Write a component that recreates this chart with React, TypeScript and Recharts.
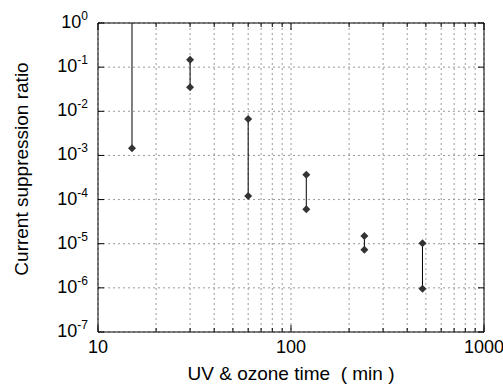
import React from 'react';
import { ScatterChart, Scatter, XAxis, YAxis, CartesianGrid, Label } from 'recharts';

// UV & ozone exposure time (min) and the measured suppression range at each
const times = [15, 30, 60, 120, 240, 480];
const lowRatio = [1.46e-3, 3.5e-2, 1.2e-4, 6.0e-5, 7.3e-6, 9.5e-7];
const highRatio = [1.5, 1.47e-1, 6.7e-3, 3.66e-4, 1.49e-5, 1.02e-5];

const xTicks = [10, 20, 30, 40, 50, 60, 70, 80, 90, 100, 200, 300, 400, 500, 600, 700, 800, 900, 1000];
const xLabels = [10, 100, 1000];
const yTicks = [1e-7, 1e-6, 1e-5, 1e-4, 1e-3, 1e-2, 1e-1, 1];

const FONT = '"Liberation Sans", Arial, Helvetica, sans-serif';

const Diamond = (props: any) => {
  const { cx, cy } = props;
  if (cx == null || cy == null) return null;
  const r = 4;
  return <path d={`M${cx},${cy - r}L${cx + r},${cy}L${cx},${cy + r}L${cx - r},${cy}Z`} fill="#333" />;
};

const BottomTick = (props: any) => {
  const { x, y, payload } = props;
  const major = xLabels.includes(payload.value);
  return (
    <g>
      <line x1={x} x2={x} y1={y} y2={y - (major ? 7 : 4)} stroke="#000" />
      {major && (
        <text x={x} y={y + 21} textAnchor="middle" fontSize={18} fontFamily={FONT} fill="#000">
          {payload.value}
        </text>
      )}
    </g>
  );
};

const TopTick = (props: any) => {
  const { x, y, payload } = props;
  const major = xLabels.includes(payload.value);
  return <line x1={x} x2={x} y1={y} y2={y + (major ? 7 : 4)} stroke="#000" />;
};

const LeftTick = (props: any) => {
  const { x, y, payload } = props;
  const exp = Math.round(Math.log10(payload.value));
  return (
    <g>
      <line x1={x} x2={x + 6} y1={y} y2={y} stroke="#000" />
      <text x={x - 10} y={y + 5} textAnchor="end" fontSize={18} fontFamily={FONT} fill="#000">
        10<tspan dy={-8} fontSize={12}>{exp}</tspan>
      </text>
    </g>
  );
};

const RightTick = (props: any) => {
  const { x, y } = props;
  return <line x1={x} x2={x - 6} y1={y} y2={y} stroke="#000" />;
};

export default function App() {
  return (
    <div style={{ position: 'absolute', left: 0, top: 0 }}>
      <ScatterChart width={503} height={385} margin={{ top: 0, right: 0, bottom: 0, left: 0 }}>
        <CartesianGrid xAxisId="b" yAxisId="l" stroke="#999" strokeDasharray="2 3" />
        <XAxis
          xAxisId="b"
          dataKey="x"
          type="number"
          scale="log"
          domain={[10, 1000]}
          allowDataOverflow
          ticks={xTicks}
          interval={0}
          height={53}
          tickSize={0}
          tickMargin={0}
          tickLine={false}
          axisLine={{ stroke: '#000' }}
          tick={BottomTick}
        >
          <Label
            content={(p: any) => {
              const vb = p.viewBox;
              return (
                <text x={vb.x + vb.width / 2} y={380} textAnchor="middle" fontSize={19} fontFamily={FONT} fill="#000" style={{ whiteSpace: 'pre' }}>
                  {'UV & ozone time  ( min )'}
                </text>
              );
            }}
          />
        </XAxis>
        <XAxis
          xAxisId="t"
          orientation="top"
          dataKey="x"
          type="number"
          scale="log"
          domain={[10, 1000]}
          allowDataOverflow
          ticks={xTicks}
          interval={0}
          height={23}
          tickSize={0}
          tickMargin={0}
          tickLine={false}
          axisLine={{ stroke: '#000' }}
          tick={TopTick}
        />
        <YAxis
          yAxisId="l"
          dataKey="y"
          type="number"
          scale="log"
          domain={[1e-7, 1]}
          allowDataOverflow
          ticks={yTicks}
          interval={0}
          width={98}
          tickSize={0}
          tickMargin={0}
          tickLine={false}
          axisLine={{ stroke: '#000' }}
          tick={LeftTick}
        >
          <Label
            content={() => {
              const cy = 169;
              return (
                <text x={28} y={cy} transform={`rotate(-90 28 ${cy})`} textAnchor="middle" fontSize={19} fontFamily={FONT} fill="#000">
                  Current suppression ratio
                </text>
              );
            }}
          />
        </YAxis>
        <YAxis
          yAxisId="r"
          orientation="right"
          dataKey="y"
          type="number"
          scale="log"
          domain={[1e-7, 1]}
          allowDataOverflow
          ticks={yTicks}
          interval={0}
          width={19}
          tickSize={0}
          tickMargin={0}
          tickLine={false}
          axisLine={{ stroke: '#000' }}
          tick={RightTick}
        />
        {times.map((t, i) => (
          <Scatter
            key={t}
            xAxisId="b"
            yAxisId="l"
            data={[
              { x: t, y: lowRatio[i] },
              { x: t, y: highRatio[i] },
            ]}
            line={{ stroke: '#000', strokeWidth: 1 }}
            lineType="joint"
            shape={Diamond}
            isAnimationActive={false}
          />
        ))}
      </ScatterChart>
    </div>
  );
}
